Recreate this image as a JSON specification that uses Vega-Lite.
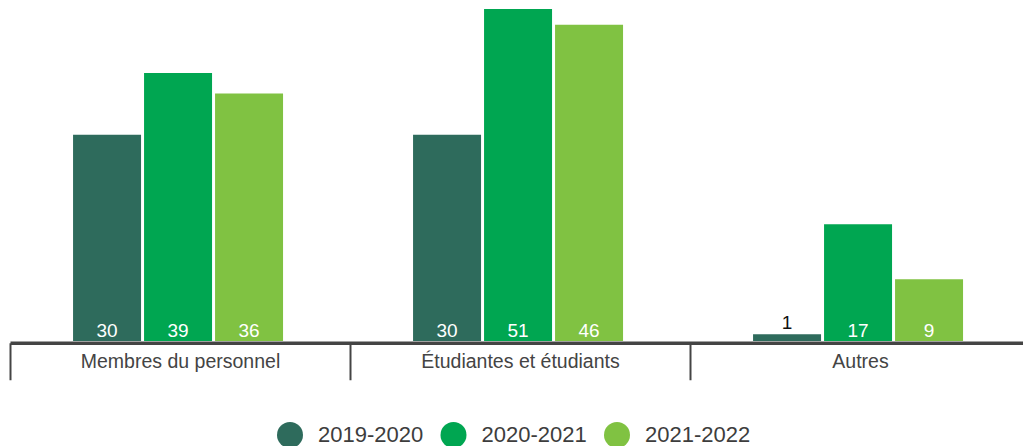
{
  "$schema": "https://vega.github.io/schema/vega-lite/v6.json",
  "width": 1013,
  "height": 332,
  "autosize": {"type": "none"},
  "padding": {"left": 10, "top": 9, "right": 0, "bottom": 105},
  "background": "white",
  "config": {
    "view": {"stroke": null},
    "font": "Liberation Sans"
  },
  "data": {
    "values": [
      {"cat": "Membres du personnel", "year": "2019-2020", "value": 30},
      {"cat": "Membres du personnel", "year": "2020-2021", "value": 39},
      {"cat": "Membres du personnel", "year": "2021-2022", "value": 36},
      {"cat": "Étudiantes et étudiants", "year": "2019-2020", "value": 30},
      {"cat": "Étudiantes et étudiants", "year": "2020-2021", "value": 51},
      {"cat": "Étudiantes et étudiants", "year": "2021-2022", "value": 46},
      {"cat": "Autres", "year": "2019-2020", "value": 1},
      {"cat": "Autres", "year": "2020-2021", "value": 17},
      {"cat": "Autres", "year": "2021-2022", "value": 9}
    ]
  },
  "encoding": {
    "x": {
      "field": "cat",
      "type": "nominal",
      "sort": ["Membres du personnel", "Étudiantes et étudiants", "Autres"],
      "scale": {"range": [0, 1020], "paddingInner": 0, "paddingOuter": 0},
      "axis": {
        "title": null,
        "labelAngle": 0,
        "labelLimit": 400,
        "domainColor": "#444444",
        "domainWidth": 3.5,
        "offset": 1.75,
        "tickColor": "#444444",
        "tickWidth": 2,
        "tickSize": 37,
        "tickBand": "extent",
        "labelFontSize": 19.5,
        "labelColor": "#444444",
        "labelPadding": -27,
        "labelFont": "Liberation Sans"
      }
    },
    "xOffset": {
      "field": "year",
      "type": "nominal",
      "scale": {"paddingInner": 0.0423, "paddingOuter": 0.9155, "align": 0.485}
    }
  },
  "layer": [
    {
      "mark": {"type": "bar"},
      "encoding": {
        "y": {
          "field": "value",
          "type": "quantitative",
          "scale": {"domain": [0, 48.3], "clamp": true, "nice": false},
          "axis": null
        },
        "color": {
          "field": "year",
          "type": "nominal",
          "scale": {
            "domain": ["2019-2020", "2020-2021", "2021-2022"],
            "range": ["#2e6b5c", "#00a651", "#80c242"]
          },
          "legend": {
            "title": null,
            "orient": "none",
            "direction": "horizontal",
            "legendX": 267,
            "legendY": 413,
            "symbolType": "circle",
            "symbolSize": 676,
            "symbolStrokeWidth": 0,
            "symbolOpacity": 1,
            "labelFontSize": 22,
            "labelColor": "#3d3d3d",
            "labelFont": "Liberation Sans",
            "labelOffset": 15,
            "columnPadding": 16.5,
            "labelLimit": 300
          }
        }
      }
    },
    {
      "transform": [{"filter": "datum.value >= 5"}],
      "mark": {
        "type": "text",
        "color": "white",
        "fontSize": 19,
        "baseline": "alphabetic",
        "dy": -4.5,
        "font": "Liberation Sans"
      },
      "encoding": {
        "y": {"datum": 0, "type": "quantitative"},
        "text": {"field": "value", "type": "quantitative"}
      }
    },
    {
      "transform": [{"filter": "datum.value < 5"}],
      "mark": {
        "type": "text",
        "color": "#111111",
        "fontSize": 19,
        "baseline": "alphabetic",
        "dy": -5,
        "font": "Liberation Sans"
      },
      "encoding": {
        "y": {"field": "value", "type": "quantitative"},
        "text": {"field": "value", "type": "quantitative"}
      }
    }
  ]
}
